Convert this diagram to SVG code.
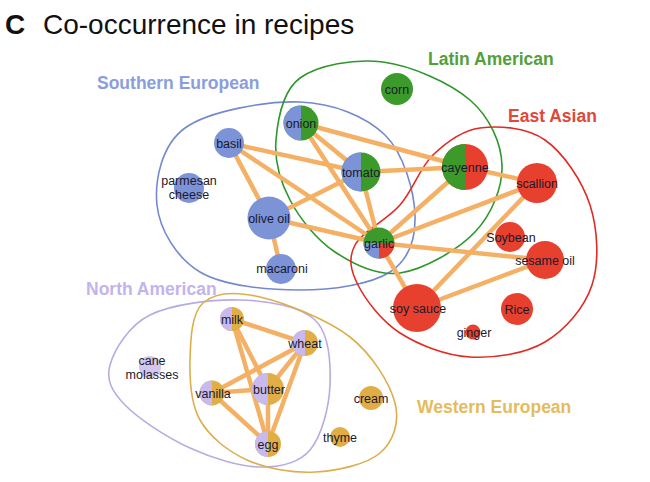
<svg xmlns="http://www.w3.org/2000/svg" width="650" height="482" viewBox="0 0 650 482">
<style>
.t{font-family:"Liberation Sans",Arial,Helvetica,sans-serif;fill:#111}
.lab{font-family:"Liberation Sans",Arial,Helvetica,sans-serif;font-size:12.5px;fill:#1a1a2a;text-anchor:middle}
.reg{font-family:"Liberation Sans",Arial,Helvetica,sans-serif;font-size:17.5px;font-weight:bold}
.e line{stroke:#f4b064;stroke-width:4.5;stroke-linecap:butt}
.out{fill:none;stroke-width:1.6}
.b{fill:#7c93d8}.g{fill:#3c9a2a}.r{fill:#e8402e}.p{fill:#c8b9ee}.y{fill:#e1ad45}
</style>
<rect width="650" height="482" fill="#fff"/>
<text class="t" x="5" y="34" font-size="28" font-weight="bold">C</text>
<text class="t" x="43" y="34" font-size="28">Co-occurrence in recipes</text>

<g id="regions">
<path id="southern-european-outline" class="out" stroke="#7389cf" d="M157,205 C154.5,181 161.2,145.2 185,128 C208.8,110.8 266.7,100.8 300,102 C333.3,103.2 365.8,116.2 385,135 C404.2,153.8 414.2,192.2 415,215 C415.8,237.8 409.2,259.5 390,272 C370.8,284.5 331.7,290 300,290 C268.3,290 223.8,286.2 200,272 C176.2,257.8 159.5,229 157,205 Z"/>
<path id="latin-american-outline" class="out" stroke="#2f962a" d="M276,140 C277.7,119.7 282.2,91 300,78 C317.8,65 354.7,58.3 383,62 C411.3,65.7 450.2,82.8 470,100 C489.8,117.2 501.2,143 502,165 C502.8,187 492,214 475,232 C458,250 423.3,269.7 400,273 C376.7,276.3 353.3,264.2 335,252 C316.7,239.8 299.8,218.7 290,200 C280.2,181.3 274.3,160.3 276,140 Z"/>
<path id="east-asian-outline" class="out" stroke="#df2b24" d="M355,245 C362,231.7 387,220 400,205 C413,190 419.7,167.8 433,155 C446.3,142.2 461.3,130.5 480,128 C498.7,125.5 526.7,127.2 545,140 C563.3,152.8 582.2,180.8 590,205 C597.8,229.2 599.5,262.2 592,285 C584.5,307.8 565.3,330 545,342 C524.7,354 494.2,358.5 470,357 C445.8,355.5 418.7,345 400,333 C381.3,321 365.5,299.7 358,285 C350.5,270.3 348,258.3 355,245 Z"/>
<path id="north-american-outline" class="out" stroke="#b9aae2" d="M110,365 C114.2,350 128.3,325.8 150,315 C171.7,304.2 212.5,299.2 240,300 C267.5,300.8 300,305.8 315,320 C330,334.2 330.8,363.3 330,385 C329.2,406.7 321.7,436.3 310,450 C298.3,463.7 280,467.3 260,467 C240,466.7 212.5,458.3 190,448 C167.5,437.7 138.3,418.8 125,405 C111.7,391.2 105.8,380 110,365 Z"/>
<path id="western-european-outline" class="out" stroke="#dcae4c" d="M190,360 C190.5,340.5 191.3,313.5 203,303 C214.7,292.5 235.5,291.3 260,297 C284.5,302.7 327.5,319.3 350,337 C372.5,354.7 390,383.7 395,403 C400,422.3 393.3,441.5 380,453 C366.7,464.5 337.2,470.8 315,472 C292.8,473.2 266.2,468.7 247,460 C227.8,451.3 209.5,436.7 200,420 C190.5,403.3 189.5,379.5 190,360 Z"/>
<text class="reg" x="97" y="89" fill="#8a9edc">Southern European</text>
<text class="reg" x="428" y="65" fill="#52a03a">Latin American</text>
<text class="reg" x="508" y="122" fill="#e2473a">East Asian</text>
<text class="reg" x="86" y="295" fill="#c3b4ec">North American</text>
<text class="reg" x="417" y="413" fill="#e4bc5c">Western European</text>
</g>

<g id="connectors" class="e">
<line x1="301" y1="123" x2="361" y2="172"/>
<line x1="301" y1="123" x2="379" y2="243"/>
<line x1="301" y1="123" x2="465" y2="167"/>
<line x1="229" y1="143" x2="361" y2="172"/>
<line x1="229" y1="143" x2="269" y2="218"/>
<line x1="229" y1="143" x2="379" y2="243"/>
<line x1="269" y1="218" x2="361" y2="172"/>
<line x1="269" y1="218" x2="379" y2="243"/>
<line x1="269" y1="218" x2="281" y2="269"/>
<line x1="361" y1="172" x2="379" y2="243"/>
<line x1="361" y1="172" x2="465" y2="167"/>
<line x1="465" y1="167" x2="379" y2="243"/>
<line x1="465" y1="167" x2="537" y2="183"/>
<line x1="537" y1="183" x2="379" y2="243"/>
<line x1="537" y1="183" x2="417" y2="308"/>
<line x1="379" y1="243" x2="545" y2="260"/>
<line x1="379" y1="243" x2="417" y2="308"/>
<line x1="417" y1="308" x2="545" y2="260"/>
<line x1="232" y1="319" x2="305" y2="343"/>
<line x1="232" y1="319" x2="268" y2="389"/>
<line x1="232" y1="319" x2="268" y2="444"/>
<line x1="305" y1="343" x2="212" y2="393"/>
<line x1="305" y1="343" x2="268" y2="389"/>
<line x1="305" y1="343" x2="268" y2="444"/>
<line x1="212" y1="393" x2="268" y2="389"/>
<line x1="212" y1="393" x2="268" y2="444"/>
<line x1="268" y1="389" x2="268" y2="444"/>
</g>

<g id="corn"><circle class="g" cx="397" cy="89" r="16"/><text class="lab" x="397" y="93.5">corn</text></g>
<g id="onion"><circle class="g" cx="301" cy="123" r="17.5"/><path class="b" d="M301,105.5 A17.5,17.5 0 0 0 301,140.5 Z"/><text class="lab" x="301" y="127.5">onion</text></g>
<g id="basil"><circle class="b" cx="229" cy="143" r="15"/><text class="lab" x="229" y="147.5">basil</text></g>
<g id="parmesan-cheese"><circle class="b" cx="189" cy="188" r="15"/><text class="lab" x="189" y="185">parmesan</text><text class="lab" x="189" y="199">cheese</text></g>
<g id="tomato"><circle class="g" cx="361" cy="172" r="19.5"/><path class="b" d="M361,152.5 A19.5,19.5 0 0 0 361,191.5 Z"/><text class="lab" x="361" y="176.5">tomato</text></g>
<g id="olive-oil"><circle class="b" cx="269" cy="218" r="21.5"/><text class="lab" x="269" y="222.5">olive oil</text></g>
<g id="macaroni"><circle class="b" cx="281" cy="269" r="15"/><text class="lab" x="282" y="273">macaroni</text></g>
<g id="garlic"><circle class="g" cx="379" cy="243" r="15.5"/><path class="b" d="M379,243 L363.5,243 A15.5,15.5 0 0 0 379,258.5 Z"/><path class="r" d="M379,243 L379,258.5 A15.5,15.5 0 0 0 394.5,243 Z"/><text class="lab" x="379" y="247.5">garlic</text></g>
<g id="cayenne"><circle class="r" cx="465" cy="167" r="23"/><path class="g" d="M465,144 A23,23 0 0 0 465,190 Z"/><text class="lab" x="465" y="171.5">cayenne</text></g>
<g id="scallion"><circle class="r" cx="537" cy="183" r="20"/><text class="lab" x="537" y="187.5">scallion</text></g>
<g id="soybean"><circle class="r" cx="510" cy="237" r="15"/><text class="lab" x="511" y="241.5">Soybean</text></g>
<g id="sesame-oil"><circle class="r" cx="545" cy="260" r="19"/><text class="lab" x="545" y="264.5">sesame oil</text></g>
<g id="soy-sauce"><circle class="r" cx="417" cy="308" r="24"/><text class="lab" x="418" y="312.5">soy sauce</text></g>
<g id="rice"><circle class="r" cx="517" cy="309" r="16"/><text class="lab" x="517" y="313.5">Rice</text></g>
<g id="ginger"><circle class="r" cx="473" cy="332" r="7.5"/><text class="lab" x="474" y="336.5">ginger</text></g>
<g id="milk"><circle class="y" cx="232" cy="319" r="12"/><path class="p" d="M232,307 A12,12 0 0 0 232,331 Z"/><text class="lab" x="232" y="323.5">milk</text></g>
<g id="wheat"><circle class="y" cx="305" cy="343" r="13"/><path class="p" d="M305,330 A13,13 0 0 0 305,356 Z"/><text class="lab" x="305" y="347.5">wheat</text></g>
<g id="cane-molasses"><circle class="p" cx="150" cy="367" r="11" opacity="0.8"/><text class="lab" x="152" y="365">cane</text><text class="lab" x="152" y="379">molasses</text></g>
<g id="vanilla"><circle class="y" cx="212" cy="393" r="12.5"/><path class="p" d="M212,380.5 A12.5,12.5 0 0 0 212,405.5 Z"/><text class="lab" x="213" y="397.5">vanilla</text></g>
<g id="butter"><circle class="y" cx="268" cy="389" r="16"/><path class="p" d="M268,373 A16,16 0 0 0 268,405 Z"/><text class="lab" x="269" y="393.5">butter</text></g>
<g id="egg"><circle class="y" cx="268" cy="444" r="13"/><path class="p" d="M268,431 A13,13 0 0 0 268,457 Z"/><text class="lab" x="268" y="448.5">egg</text></g>
<g id="cream"><circle class="y" cx="371" cy="398" r="12"/><text class="lab" x="371" y="402.5">cream</text></g>
<g id="thyme"><circle class="y" cx="340" cy="437" r="10"/><text class="lab" x="340" y="441.5">thyme</text></g>
</svg>
